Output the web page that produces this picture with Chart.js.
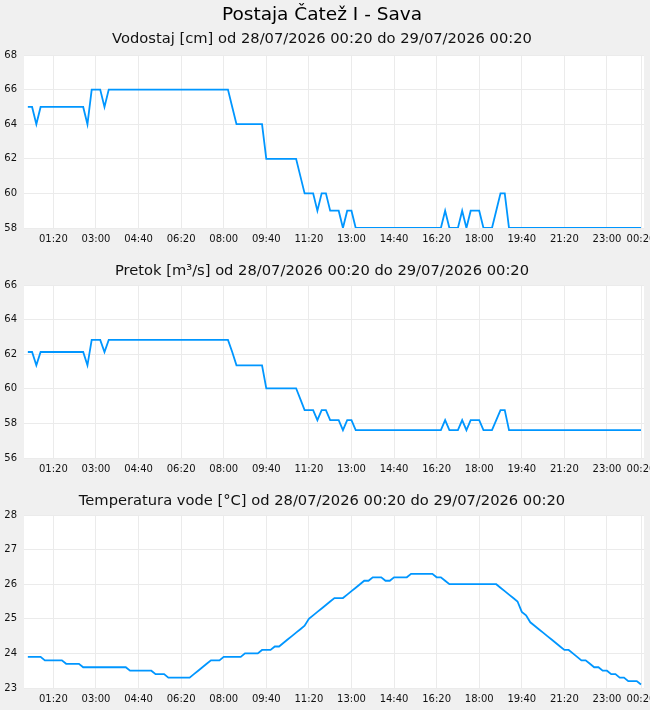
<!DOCTYPE html>
<html>
<head>
<meta charset="utf-8">
<script src="https://cdn.jsdelivr.net/npm/chart.js@4.4.1/dist/chart.umd.min.js"></script>
<style>
  html, body { margin: 0; padding: 0; background: #f0f0f0; }
  canvas { display: block; }
</style>
</head>
<body>
<canvas id="vodostaj" width="650" height="250"></canvas>
<canvas id="pretok" width="650" height="230"></canvas>
<canvas id="temperatura" width="650" height="230"></canvas>
<script>
const stationTitle = 'Postaja Čatež I - Sava';
const periodText = 'od 28/07/2026 00:20 do 29/07/2026 00:20';

// x os: oznake na vsakih 100 min, zadnja je konec obdobja
const xTickLabels = ['01:20', '03:00', '04:40', '06:20', '08:00', '09:40', '11:20', '13:00',
  '14:40', '16:20', '18:00', '19:40', '21:20', '23:00', '00:20'];

// vodostaj in pretok - samo tocke, kjer se vrednost spremeni
const levelTimes = ['00:20', '00:30', '00:40', '00:50', '02:30', '02:40', '02:50', '03:10', '03:20', '03:30',
  '08:10', '08:20', '08:30', '09:30', '09:40', '10:50', '11:00', '11:10', '11:30', '11:40',
  '11:50', '12:00', '12:10', '12:30', '12:40', '12:50', '13:00', '13:10', '16:30', '16:40',
  '16:50', '17:10', '17:20', '17:30', '17:40', '18:00', '18:10', '18:30', '18:40', '18:50',
  '19:00', '19:10', '00:20'];
const levelValues = [65, 65, 64, 65, 65, 64, 66, 66, 65, 66,
  66, 65, 64, 64, 62, 62, 61, 60, 60, 59,
  60, 60, 59, 59, 58, 59, 59, 58, 58, 59,
  58, 58, 59, 58, 59, 59, 58, 58, 59, 60,
  60, 58, 58];
const flowValues = [62.13, 62.13, 61.36, 62.13, 62.13, 61.36, 62.83, 62.83, 62.13, 62.83,
  62.83, 62.13, 61.36, 61.36, 60.03, 60.03, 59.4, 58.77, 58.77, 58.19,
  58.77, 58.77, 58.19, 58.19, 57.61, 58.19, 58.19, 57.61, 57.61, 58.19,
  57.61, 57.61, 58.19, 57.61, 58.19, 58.19, 57.61, 57.61, 58.19, 58.77,
  58.77, 57.61, 57.61];

// temperatura vode
const tempTimes = ['00:20', '00:50', '01:00', '01:40', '01:50', '02:20', '02:30', '04:10', '04:20', '05:10',
  '05:20', '05:40', '05:50', '06:40', '06:50', '07:00', '07:10', '07:20', '07:30', '07:50',
  '08:00', '08:40', '08:50', '09:20', '09:30', '09:50', '10:00', '10:10', '10:20', '10:30',
  '10:40', '10:50', '11:00', '11:10', '11:20', '11:30', '11:40', '11:50', '12:00', '12:10',
  '12:20', '12:40', '12:50', '13:00', '13:10', '13:20', '13:30', '13:40', '13:50', '14:10',
  '14:20', '14:30', '14:40', '15:10', '15:20', '16:10', '16:20', '16:30', '16:40', '16:50',
  '18:40', '18:50', '19:00', '19:10', '19:20', '19:30', '19:40', '19:50', '20:00', '20:10',
  '20:20', '20:30', '20:40', '20:50', '21:00', '21:10', '21:20', '21:30', '21:40', '21:50',
  '22:00', '22:10', '22:20', '22:30', '22:40', '22:50', '23:00', '23:10', '23:20', '23:30',
  '23:40', '23:50', '00:10', '00:20'];
const tempValues = [23.9, 23.9, 23.8, 23.8, 23.7, 23.7, 23.6, 23.6, 23.5, 23.5,
  23.4, 23.4, 23.3, 23.3, 23.4, 23.5, 23.6, 23.7, 23.8, 23.8,
  23.9, 23.9, 24.0, 24.0, 24.1, 24.1, 24.2, 24.2, 24.3, 24.4,
  24.5, 24.6, 24.7, 24.8, 25.0, 25.1, 25.2, 25.3, 25.4, 25.5,
  25.6, 25.6, 25.7, 25.8, 25.9, 26.0, 26.1, 26.1, 26.2, 26.2,
  26.1, 26.1, 26.2, 26.2, 26.3, 26.3, 26.2, 26.2, 26.1, 26.0,
  26.0, 25.9, 25.8, 25.7, 25.6, 25.5, 25.2, 25.1, 24.9, 24.8,
  24.7, 24.6, 24.5, 24.4, 24.3, 24.2, 24.1, 24.1, 24.0, 23.9,
  23.8, 23.8, 23.7, 23.6, 23.6, 23.5, 23.5, 23.4, 23.4, 23.3,
  23.3, 23.2, 23.2, 23.1];

const config = {
  font: 'DejaVu Sans',
  lineColor: 'rgb(0,150,255)',
  gridColor: '#ebebeb',
  xMin: -9,
  xMax: 1447,
};

// minute od zacetka (00:20), prehod cez polnoc doda en dan
function toMinutes(times) {
  let day = 0, prev = -1;
  return times.map(t => {
    const p = t.split(':');
    let v = (+p[0]) * 60 + (+p[1]) - 20 + day;
    if (v < prev) { day += 1440; v += 1440; }
    prev = v;
    return v;
  });
}

const xTickValues = toMinutes(xTickLabels);

const plotBackground = {
  id: 'plotBackground',
  beforeDraw(chart) {
    const a = chart.chartArea;
    const ctx = chart.ctx;
    ctx.save();
    ctx.fillStyle = '#ffffff';
    ctx.fillRect(a.left, a.top, a.right - a.left, a.bottom - a.top);
    ctx.restore();
  }
};

function makeChart(id, times, values, yMin, yMax, yStep, title, subtitle) {
  const xs = toMinutes(times);
  const points = xs.map((x, i) => ({ x: x, y: values[i] }));
  return new Chart(document.getElementById(id), {
    type: 'line',
    data: {
      datasets: [{
        data: points,
        borderColor: config.lineColor,
        borderWidth: 1.8,
        pointRadius: 0,
        tension: 0,
      }]
    },
    options: {
      responsive: false,
      animation: false,
      layout: { padding: { left: 0, top: 0, bottom: 0, right: 6 } },
      plugins: {
        legend: { display: false },
        tooltip: { enabled: false },
        title: title,
        subtitle: subtitle || { display: false },
      },
      scales: {
        x: {
          type: 'linear',
          min: config.xMin,
          max: config.xMax,
          afterBuildTicks: s => { s.ticks = xTickValues.map(v => ({ value: v })); },
          afterFit: s => { s.height = 22; s.paddingLeft = 0; s.paddingRight = 0; },
          grid: { color: config.gridColor, drawTicks: false },
          border: { display: false },
          ticks: {
            padding: 5,
            maxRotation: 0,
            autoSkip: false,
            color: '#111',
            font: { family: config.font, size: 10 },
            callback: (v, i) => xTickLabels[i],
          }
        },
        y: {
          min: yMin,
          max: yMax,
          afterFit: s => { s.width = 24; },
          grid: { color: config.gridColor, drawTicks: false },
          border: { display: false },
          ticks: {
            stepSize: yStep,
            padding: 7,
            color: '#111',
            font: { family: config.font, size: 10 },
          }
        }
      }
    },
    plugins: [plotBackground]
  });
}

makeChart('vodostaj', levelTimes, levelValues, 58, 68, 2,
  {
    display: true, text: stationTitle, color: '#000',
    font: { family: config.font, size: 18.5, weight: 'normal' },
    padding: { top: 4.5, bottom: 0 }
  },
  {
    display: true, text: 'Vodostaj [cm] ' + periodText, color: '#111',
    font: { family: config.font, size: 14.7, weight: 'normal' },
    padding: { top: 4, bottom: 6.7 }
  });

makeChart('pretok', levelTimes, flowValues, 56, 66, 2,
  {
    display: true, text: 'Pretok [m³/s] ' + periodText, color: '#111',
    font: { family: config.font, size: 14.7, weight: 'normal' },
    padding: { top: 12.5, bottom: 4.9 }
  });

makeChart('temperatura', tempTimes, tempValues, 23, 28, 1,
  {
    display: true, text: 'Temperatura vode [°C] ' + periodText, color: '#111',
    font: { family: config.font, size: 14.7, weight: 'normal' },
    padding: { top: 12.5, bottom: 4.9 }
  });
</script>
</body>
</html>
